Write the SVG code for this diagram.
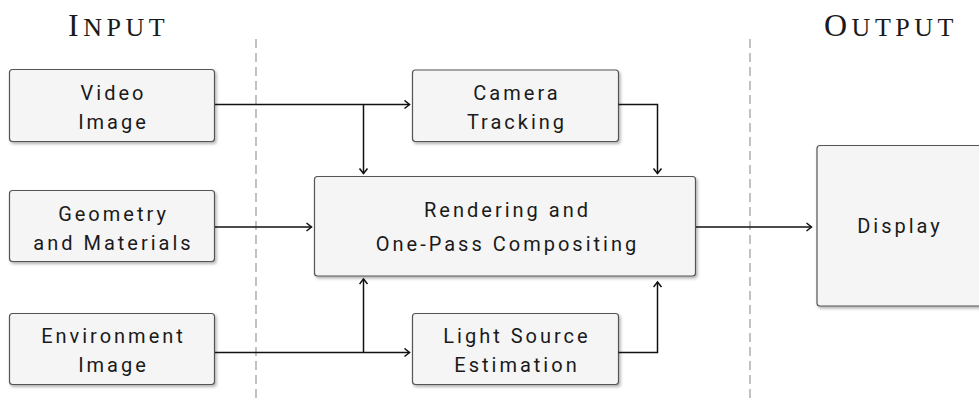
<svg xmlns="http://www.w3.org/2000/svg" width="979" height="398" viewBox="0 0 979 398">
<defs>
<filter id="sh" x="-10%" y="-10%" width="130%" height="140%">
<feDropShadow dx="1.5" dy="2" stdDeviation="1.5" flood-color="#000" flood-opacity="0.3"/>
</filter>
<marker id="ah" markerUnits="userSpaceOnUse" markerWidth="10" markerHeight="12" refX="6" refY="5" orient="auto">
<path d="M1,1 L6,5 L1,9" fill="none" stroke="#111" stroke-width="1.5"/>
</marker>
</defs>
<style>
.box{fill:#f5f5f5;stroke:#555;stroke-width:1.2;filter:url(#sh)}
.lbl{font-family:Roboto,"Liberation Sans",sans-serif;font-size:20px;letter-spacing:3px;fill:#1a1a1a;text-anchor:middle}
.ttl{font-family:"Liberation Serif",serif;fill:#1a1a1a;letter-spacing:4.5px}
.dash{stroke:#999;stroke-width:1.2;stroke-dasharray:9 5;fill:none}
.cn{fill:none;stroke:#111;stroke-width:1.5}
</style>
<text class="ttl" x="68" y="36"><tspan font-size="32">I</tspan><tspan font-size="26">NPUT</tspan></text>
<text class="ttl" x="824" y="36"><tspan font-size="32">O</tspan><tspan font-size="26">UTPUT</tspan></text>
<line class="dash" x1="256" y1="39" x2="256" y2="398"/>
<line class="dash" x1="750" y1="39" x2="750" y2="398"/>
<g id="video">
<rect class="box" x="9.5" y="69.5" width="205" height="72" rx="3"/>
<text class="lbl" x="113.5" y="100">Video</text>
<text class="lbl" x="113.5" y="129">Image</text>
</g>
<g id="geometry">
<rect class="box" x="9.5" y="190.5" width="205" height="71" rx="3"/>
<text class="lbl" x="113.5" y="221">Geometry</text>
<text class="lbl" x="113.5" y="250">and Materials</text>
</g>
<g id="environment">
<rect class="box" x="9.5" y="313.5" width="205" height="71" rx="3"/>
<text class="lbl" x="113.5" y="343">Environment</text>
<text class="lbl" x="113.5" y="372">Image</text>
</g>
<g id="camera">
<rect class="box" x="412.5" y="70" width="206" height="71.5" rx="3"/>
<text class="lbl" x="517" y="100">Camera</text>
<text class="lbl" x="517" y="129">Tracking</text>
</g>
<g id="rendering">
<rect class="box" x="314.5" y="176.5" width="381" height="99.5" rx="3"/>
<text class="lbl" x="507.5" y="217">Rendering and</text>
<text class="lbl" x="507.5" y="251">One-Pass Compositing</text>
</g>
<g id="light">
<rect class="box" x="412.5" y="313.5" width="206" height="71" rx="3"/>
<text class="lbl" x="517" y="343">Light Source</text>
<text class="lbl" x="517" y="372">Estimation</text>
</g>
<g id="display">
<rect class="box" x="817" y="145.5" width="180" height="160.5" rx="3"/>
<text class="lbl" x="900" y="233">Display</text>
</g>
<g id="connectors">
<path class="cn" d="M215,104.5 H409.5" marker-end="url(#ah)"/>
<path class="cn" d="M363.5,104.5 V173.5" marker-end="url(#ah)"/>
<path class="cn" d="M618.5,104.5 H657.5 V173.5" marker-end="url(#ah)"/>
<path class="cn" d="M215,227 H311.5" marker-end="url(#ah)"/>
<path class="cn" d="M215,352.5 H409.5" marker-end="url(#ah)"/>
<path class="cn" d="M363.5,352.5 V279" marker-end="url(#ah)"/>
<path class="cn" d="M618.5,352.5 H657.5 V282" marker-end="url(#ah)"/>
<path class="cn" d="M696,227 H811.5" marker-end="url(#ah)"/>
</g>
</svg>
